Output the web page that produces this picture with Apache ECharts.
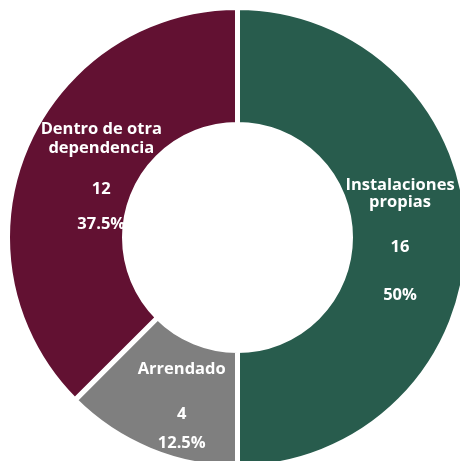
<!DOCTYPE html>
<html>
<head>
<meta charset="utf-8">
<script src="https://cdn.jsdelivr.net/npm/echarts@6/dist/echarts.min.js"></script>
<style>
  html, body { margin: 0; padding: 0; background: #fff; }
  #chart { width: 460px; height: 461px; }
</style>
</head>
<body>
<div id="chart"></div>
<script>
// datos
const names = ['Instalaciones\npropias', 'Arrendado', 'Dentro de otra\ndependencia'];
const values = [16, 4, 12];
const colors = ['#285C4D', '#7F7F7F', '#621132'];

// ajustes de etiqueta por rebanada (espaciado y desplazamiento)
const nameLH = [17, 17, 19];
const gap1 = [26, 25, 20];
const gap2 = [26, 7, 13];
const pads = [[8, 24, 0, 0], [18, 0, 0, 22], [14, 0, 0, 50]];

const total = values.reduce((a, b) => a + b, 0);

const myChart = echarts.init(document.getElementById('chart'));

const txt = { color: '#fff', fontFamily: 'Open Sans', fontWeight: 'bold', fontSize: 16.5, align: 'center' };

const option = {
  animation: false,
  series: [
    {
      type: 'pie',
      center: [237.5, 237.5],
      radius: [113, 230],
      startAngle: 90,
      clockwise: true,
      itemStyle: { borderColor: '#fff', borderWidth: 5 },
      labelLine: { show: false },
      data: values.map((v, i) => {
        const pct = (v / total * 100).toString();
        const nm = names[i].split('\n').map(s => '{a' + i + '|' + s + '}').join('\n');
        return {
          value: v,
          name: names[i],
          itemStyle: { color: colors[i] },
          label: {
            show: true,
            position: 'inside',
            padding: pads[i],
            formatter: nm + '\n{g1' + i + '|}\n{v|' + v + '}\n{g2' + i + '|}\n{v|' + pct + '%}',
            rich: {
              ['a' + i]: Object.assign({ lineHeight: nameLH[i] }, txt),
              ['g1' + i]: { height: gap1[i], lineHeight: gap1[i] },
              ['g2' + i]: { height: gap2[i], lineHeight: gap2[i] },
              v: Object.assign({ lineHeight: 22 }, txt)
            }
          }
        };
      })
    }
  ]
};

myChart.setOption(option);
</script>
</body>
</html>
